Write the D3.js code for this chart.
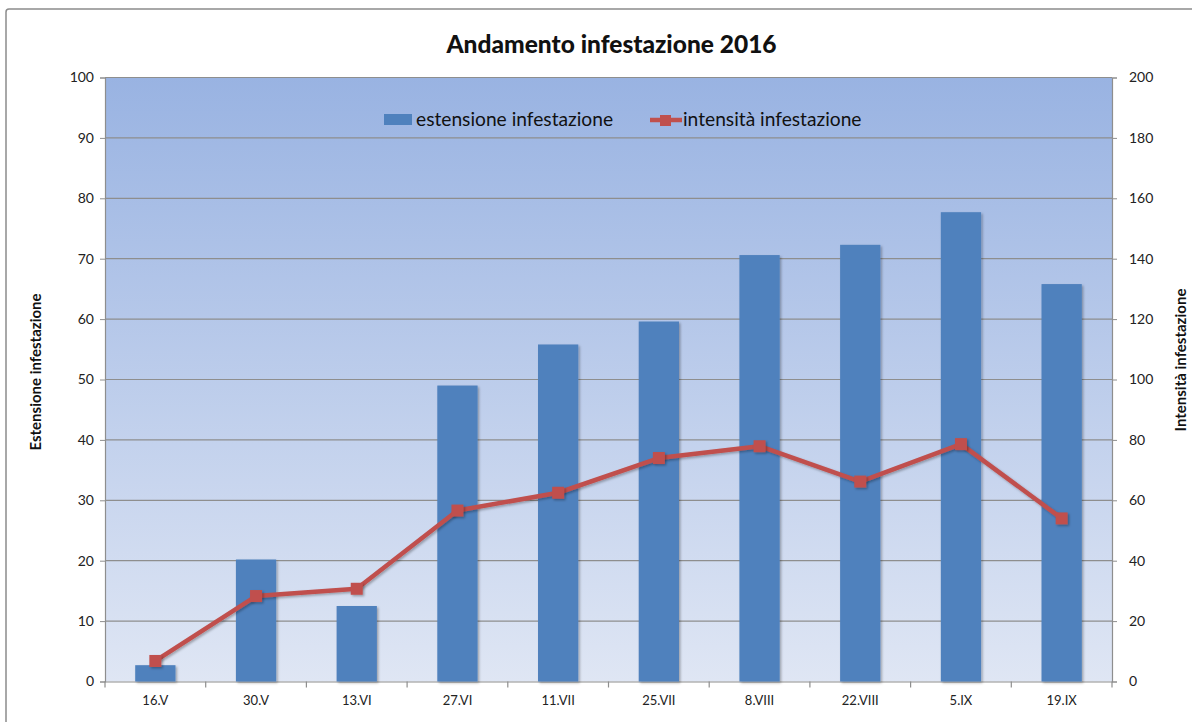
<!DOCTYPE html>
<html><head><meta charset="utf-8">
<script src="https://cdn.jsdelivr.net/npm/d3@7"></script>
<style>body{margin:0;background:#fff;overflow:hidden}svg{display:block}</style>
</head><body><svg id="c" width="1192" height="722"></svg>
<script>
const categories = ["16.V","30.V","13.VI","27.VI","11.VII","25.VII","8.VIII","22.VIII","5.IX","19.IX"];
const estensione = [2.7, 20.2, 12.5, 49.0, 55.8, 59.6, 70.6, 72.3, 77.7, 65.8];
const intensita = [6.8, 28.3, 30.7, 56.6, 62.5, 74.0, 77.9, 66.2, 78.6, 54.0];
const leftTicks = [0,10,20,30,40,50,60,70,80,90,100];
const rightTicks = [0,20,40,60,80,100,120,140,160,180,200];
const title = "Andamento infestazione 2016";
const seriesNames = ["estensione infestazione","intensità infestazione"];
const axisTitles = ["Estensione infestazione","Intensità infestazione"];

const font = "Lato, 'Open Sans', sans-serif";
const svg = d3.select("#c");
const L = 105, R = 1112, T = 77.5, B = 681.5;

const defs = svg.append("defs");
const g = defs.append("linearGradient").attr("id","bg").attr("x1",0).attr("y1",0).attr("x2",0).attr("y2",1);
g.append("stop").attr("offset","0%").attr("stop-color","#99b3e2");
g.append("stop").attr("offset","100%").attr("stop-color","#dfe6f4");
const f = defs.append("filter").attr("id","sh").attr("x","-20%").attr("y","-20%").attr("width","150%").attr("height","150%");
f.append("feDropShadow").attr("dx",1.5).attr("dy",1.5).attr("stdDeviation",1.2).attr("flood-color","#000").attr("flood-opacity",0.3);

// outer frame
svg.append("rect").attr("x",6).attr("y",9).attr("width",1210).attr("height",740).attr("rx",3)
  .attr("fill","#fff").attr("stroke","#8c8c8c").attr("stroke-width",1.5);

const x = d3.scaleBand().domain(categories).range([L,R]).paddingInner(0.6).paddingOuter(0.3);
const xc = d3.scalePoint().domain(categories).range([L,R]).padding(0.5);
const y = d3.scaleLinear().domain([0,100]).range([B,T]);
const y2 = d3.scaleLinear().domain([0,200]).range([B,T]);

svg.append("rect").attr("x",L).attr("y",T).attr("width",R-L).attr("height",B-T).attr("fill","url(#bg)");

// gridlines
svg.append("g").selectAll("line").data(leftTicks.filter(d=>d>0)).join("line")
  .attr("x1",L).attr("x2",R).attr("y1",d=>y(d)).attr("y2",d=>y(d))
  .attr("stroke","#8e8e8e").attr("stroke-width",1.2);

// axes
const ga = svg.append("g").attr("transform",`translate(${L},0)`)
  .call(d3.axisLeft(y).tickValues(leftTicks).tickSize(5).tickPadding(6));
const gb = svg.append("g").attr("transform",`translate(${R},0)`)
  .call(d3.axisRight(y2).tickValues(rightTicks).tickSize(5).tickPadding(12));
const gx = svg.append("g").attr("transform",`translate(0,${B})`)
  .call(d3.axisBottom(x).tickSize(0).tickPadding(14));
[ga,gb,gx].forEach(a=>{
  a.selectAll("path").attr("stroke","#8e8e8e").attr("stroke-width",1.2);
  a.selectAll("line").attr("stroke","#8e8e8e");
  a.selectAll("text").attr("font-family",font).attr("font-size",14).attr("fill","#222");
});
gx.selectAll("text").attr("font-size",13);
// x boundary ticks
svg.append("g").selectAll("line").data(d3.range(categories.length+1)).join("line")
  .attr("x1",i=>L+i*(R-L)/categories.length).attr("x2",i=>L+i*(R-L)/categories.length)
  .attr("y1",B).attr("y2",B+6).attr("stroke","#8e8e8e").attr("stroke-width",1.2);

// bars
svg.append("g").selectAll("rect").data(categories).join("rect")
  .attr("x",d=>x(d)).attr("width",x.bandwidth())
  .attr("y",(d,i)=>y(estensione[i])).attr("height",(d,i)=>B-y(estensione[i]))
  .attr("fill","#4f81bd").attr("filter","url(#sh)");

// line
const line = d3.line().x((d,i)=>xc(categories[i])).y(d=>y2(d));
svg.append("path").datum(intensita).attr("d",line).attr("fill","none")
  .attr("stroke","#c0504d").attr("stroke-width",4.5).attr("stroke-linejoin","round").attr("filter","url(#sh)");
svg.append("g").selectAll("rect").data(intensita).join("rect")
  .attr("x",(d,i)=>xc(categories[i])-6).attr("y",d=>y2(d)-6).attr("width",12).attr("height",12)
  .attr("fill","#c0504d").attr("filter","url(#sh)");

// title
svg.append("text").attr("x",611.5).attr("y",53).attr("text-anchor","middle")
  .attr("font-family",font).attr("font-weight","900").attr("font-size",24.5).attr("fill","#111").text(title);

// axis titles
svg.append("text").attr("transform","translate(41,372) rotate(-90)").attr("text-anchor","middle")
  .attr("font-family",font).attr("font-weight","bold").attr("font-size",15).attr("fill","#111").text(axisTitles[0]);
svg.append("text").attr("transform","translate(1186,360) rotate(-90)").attr("text-anchor","middle")
  .attr("font-family",font).attr("font-weight","bold").attr("font-size",15).attr("fill","#111").text(axisTitles[1]);

// legend
const lg = svg.append("g");
lg.append("rect").attr("x",384).attr("y",114).attr("width",28).attr("height",11).attr("fill","#4f81bd");
lg.append("text").attr("x",416).attr("y",126).attr("font-family",font).attr("font-size",19.2).attr("fill","#111").text(seriesNames[0]);
lg.append("line").attr("x1",650).attr("x2",682).attr("y1",120).attr("y2",120).attr("stroke","#c0504d").attr("stroke-width",4.5);
lg.append("rect").attr("x",660).attr("y",115).attr("width",11).attr("height",11).attr("fill","#c0504d");
lg.append("text").attr("x",683).attr("y",126).attr("font-family",font).attr("font-size",19.2).attr("fill","#111").text(seriesNames[1]);
</script></body></html>
